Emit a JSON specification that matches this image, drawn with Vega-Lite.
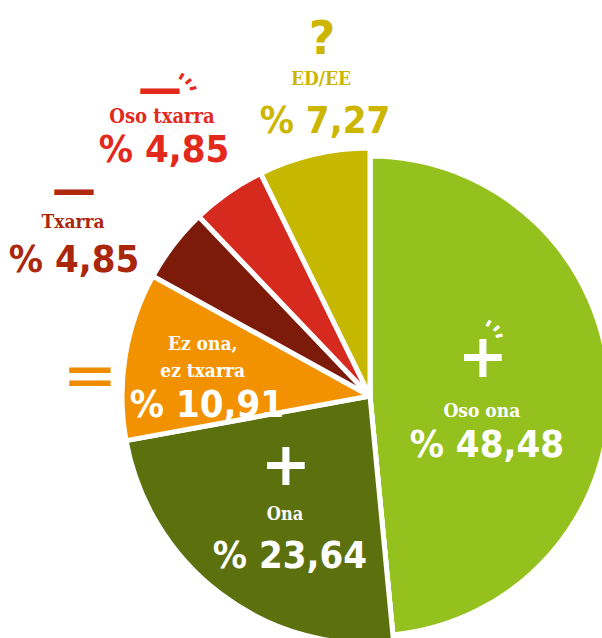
{
  "$schema": "https://vega.github.io/schema/vega-lite/v6.json",
  "width": 740,
  "height": 792,
  "autosize": "none",
  "padding": 0,
  "background": "white",
  "config": {
    "view": {"stroke": null},
    "locale": {"number": {"decimal": ",", "thousands": ".", "grouping": [3], "currency": ["% ", ""]}}
  },
  "data": {
    "values": [
      {"cat": "Oso ona", "name": "Oso ona", "value": 48.48, "idx": 1},
      {"cat": "Ona", "name": "Ona", "value": 23.64, "idx": 2},
      {"cat": "Ez ona, ez txarra", "name": "Ez ona,\nez txarra", "value": 10.91, "idx": 3},
      {"cat": "Txarra", "name": "Txarra", "value": 4.85, "idx": 4},
      {"cat": "Oso txarra", "name": "Oso txarra", "value": 4.85, "idx": 5},
      {"cat": "ED/EE", "name": "ED/EE", "value": 7.27, "idx": 6}
    ]
  },
  "encoding": {
    "theta": {"field": "value", "type": "quantitative", "stack": true},
    "order": {"field": "idx", "type": "quantitative"}
  },
  "layer": [
    {
      "mark": {"type": "arc", "radius": 240, "stroke": "white", "strokeWidth": 5, "strokeJoin": "round"},
      "encoding": {
        "color": {"field": "cat", "type": "nominal", "legend": null,
          "scale": {"domain": ["Oso ona", "Ona", "Ez ona, ez txarra", "Txarra", "Oso txarra", "ED/EE"],
                    "range": ["#95c11f", "#5c700e", "#f39200", "#7d1b0b", "#d62a1e", "#c6b800"]}}
      }
    },
    {
      "mark": {"type": "arc", "radius": 248, "stroke": "white", "strokeWidth": 5, "strokeJoin": "round"},
      "encoding": {
        "color": {"field": "cat", "type": "nominal", "legend": null},
        "opacity": {"condition": {"test": "datum.idx === 1", "value": 0}, "value": 1}
      }
    },

    {"mark": {"type": "text", "radius": 115, "dx": -2, "dy": -31.5, "font": "DejaVu Sans", "fontWeight": "bold", "fontSize": 60, "color": "white", "align": "center", "baseline": "middle"},
     "encoding": {"text": {"condition": {"test": "datum.idx === 1", "value": "+"}, "value": ""}}},
    {"mark": {"type": "text", "radius": 115, "angle": -60, "dx": 60.0, "dy": -31.1, "font": "DejaVu Sans", "fontWeight": "bold", "fontSize": 22, "color": "white", "align": "center", "baseline": "middle"},
     "encoding": {"text": {"condition": {"test": "datum.idx === 1", "value": "-"}, "value": ""}}},
    {"mark": {"type": "text", "radius": 115, "angle": -40, "dx": 48.7, "dy": -40.7, "font": "DejaVu Sans", "fontWeight": "bold", "fontSize": 22, "color": "white", "align": "center", "baseline": "middle"},
     "encoding": {"text": {"condition": {"test": "datum.idx === 1", "value": "-"}, "value": ""}}},
    {"mark": {"type": "text", "radius": 115, "angle": -14, "dx": 27.1, "dy": -50.4, "font": "DejaVu Sans", "fontWeight": "bold", "fontSize": 22, "color": "white", "align": "center", "baseline": "middle"},
     "encoding": {"text": {"condition": {"test": "datum.idx === 1", "value": "-"}, "value": ""}}},
    {"mark": {"type": "text", "radius": 115, "dx": -3, "dy": 26.5, "font": "DejaVu Serif Condensed, DejaVu Serif", "fontWeight": "bold", "fontSize": 19, "color": "white", "align": "center", "baseline": "alphabetic"},
     "encoding": {"text": {"condition": {"test": "datum.idx === 1", "field": "name", "type": "nominal"}, "value": ""}}},
    {"mark": {"type": "text", "radius": 115, "dx": 2, "dy": 66.5, "font": "DejaVu Sans Condensed, DejaVu Sans", "fontWeight": "bold", "fontSize": 38, "color": "white", "align": "center", "baseline": "alphabetic"},
     "encoding": {"text": {"condition": {"test": "datum.idx === 1", "field": "value", "type": "quantitative", "format": "$.2f"}, "value": ""}}},

    {"mark": {"type": "text", "radius": 140, "dx": 0.4, "dy": -40.7, "font": "DejaVu Sans", "fontWeight": "bold", "fontSize": 60, "color": "white", "align": "center", "baseline": "middle"},
     "encoding": {"text": {"condition": {"test": "datum.idx === 2", "value": "+"}, "value": ""}}},
    {"mark": {"type": "text", "radius": 140, "dx": -0.6, "dy": 12.3, "font": "DejaVu Serif Condensed, DejaVu Serif", "fontWeight": "bold", "fontSize": 18, "color": "white", "align": "center", "baseline": "alphabetic"},
     "encoding": {"text": {"condition": {"test": "datum.idx === 2", "field": "name", "type": "nominal"}, "value": ""}}},
    {"mark": {"type": "text", "radius": 140, "dx": 4.4, "dy": 60.3, "font": "DejaVu Sans Condensed, DejaVu Sans", "fontWeight": "bold", "fontSize": 38, "color": "white", "align": "center", "baseline": "alphabetic"},
     "encoding": {"text": {"condition": {"test": "datum.idx === 2", "field": "value", "type": "quantitative", "format": "$.2f"}, "value": ""}}},

    {"mark": {"type": "text", "radius": 165, "dx": -4.5, "dy": -19.4, "font": "DejaVu Serif Condensed, DejaVu Serif", "fontWeight": "bold", "fontSize": 19, "lineBreak": "\n", "lineHeight": 27, "color": "white", "align": "center", "baseline": "alphabetic"},
     "encoding": {"text": {"condition": {"test": "datum.idx === 3", "field": "name", "type": "nominal"}, "value": ""}}},
    {"mark": {"type": "text", "radius": 165, "dx": -0.2, "dy": 47.6, "font": "DejaVu Sans Condensed, DejaVu Sans", "fontWeight": "bold", "fontSize": 38, "color": "white", "align": "center", "baseline": "alphabetic"},
     "encoding": {"text": {"condition": {"test": "datum.idx === 3", "field": "value", "type": "quantitative", "format": "$.2f"}, "value": ""}}},
    {"mark": {"type": "text", "radius": 285, "dx": 1.3, "dy": 27, "font": "DejaVu Sans", "fontWeight": "normal", "fontSize": 66, "color": "#f08c00", "align": "center", "baseline": "middle"},
     "encoding": {"text": {"condition": {"test": "datum.idx === 3", "value": "="}, "value": ""}}},

    {"mark": {"type": "text", "radius": 300, "dx": -58.4, "dy": -21.8, "font": "DejaVu Sans", "fontWeight": "bold", "fontSize": 44, "color": "#b0290d", "align": "center", "baseline": "middle"},
     "encoding": {"text": {"condition": {"test": "datum.idx === 4", "value": "—"}, "value": ""}}},
    {"mark": {"type": "text", "radius": 300, "dx": -59.4, "dy": 15.2, "font": "DejaVu Serif Condensed, DejaVu Serif", "fontWeight": "bold", "fontSize": 19, "color": "#aa270c", "align": "center", "baseline": "alphabetic"},
     "encoding": {"text": {"condition": {"test": "datum.idx === 4", "field": "name", "type": "nominal"}, "value": ""}}},
    {"mark": {"type": "text", "radius": 300, "dx": -58.4, "dy": 59.2, "font": "DejaVu Sans Condensed, DejaVu Sans", "fontWeight": "bold", "fontSize": 38, "color": "#aa270c", "align": "center", "baseline": "alphabetic"},
     "encoding": {"text": {"condition": {"test": "datum.idx === 4", "field": "value", "type": "quantitative", "format": "$.2f"}, "value": ""}}},

    {"mark": {"type": "text", "radius": 330, "dx": -21.2, "dy": -35.3, "font": "DejaVu Sans", "fontWeight": "bold", "fontSize": 44, "color": "#e2291c", "align": "center", "baseline": "middle"},
     "encoding": {"text": {"condition": {"test": "datum.idx === 5", "value": "—"}, "value": ""}}},
    {"mark": {"type": "text", "radius": 330, "angle": -60, "dx": 42.6, "dy": -24.8, "font": "DejaVu Sans", "fontWeight": "bold", "fontSize": 22, "color": "#e2291c", "align": "center", "baseline": "middle"},
     "encoding": {"text": {"condition": {"test": "datum.idx === 5", "value": "-"}, "value": ""}}},
    {"mark": {"type": "text", "radius": 330, "angle": -40, "dx": 33.7, "dy": -29.6, "font": "DejaVu Sans", "fontWeight": "bold", "fontSize": 22, "color": "#e2291c", "align": "center", "baseline": "middle"},
     "encoding": {"text": {"condition": {"test": "datum.idx === 5", "value": "-"}, "value": ""}}},
    {"mark": {"type": "text", "radius": 330, "angle": -14, "dx": 20.6, "dy": -33.8, "font": "DejaVu Sans", "fontWeight": "bold", "fontSize": 22, "color": "#e2291c", "align": "center", "baseline": "middle"},
     "encoding": {"text": {"condition": {"test": "datum.idx === 5", "value": "-"}, "value": ""}}},
    {"mark": {"type": "text", "radius": 330, "dx": -19.2, "dy": -2.3, "font": "DejaVu Serif Condensed, DejaVu Serif", "fontWeight": "bold", "fontSize": 20, "color": "#e2291c", "align": "center", "baseline": "alphabetic"},
     "encoding": {"text": {"condition": {"test": "datum.idx === 5", "field": "name", "type": "nominal"}, "value": ""}}},
    {"mark": {"type": "text", "radius": 330, "dx": -17.2, "dy": 36.7, "font": "DejaVu Sans Condensed, DejaVu Sans", "fontWeight": "bold", "fontSize": 38, "color": "#e2291c", "align": "center", "baseline": "alphabetic"},
     "encoding": {"text": {"condition": {"test": "datum.idx === 5", "field": "value", "type": "quantitative", "format": "$.2f"}, "value": ""}}},

    {"mark": {"type": "text", "radius": 300, "dx": 19.9, "dy": -49.8, "font": "DejaVu Sans", "fontWeight": "bold", "fontSize": 46, "color": "#cdb600", "align": "center", "baseline": "alphabetic"},
     "encoding": {"text": {"condition": {"test": "datum.idx === 6", "value": "?"}, "value": ""}}},
    {"mark": {"type": "text", "radius": 300, "dx": 18.9, "dy": -18.8, "font": "DejaVu Serif Condensed, DejaVu Serif", "fontWeight": "bold", "fontSize": 19, "color": "#cdb600", "align": "center", "baseline": "alphabetic"},
     "encoding": {"text": {"condition": {"test": "datum.idx === 6", "field": "name", "type": "nominal"}, "value": ""}}},
    {"mark": {"type": "text", "radius": 300, "dx": 22.9, "dy": 29.2, "font": "DejaVu Sans Condensed, DejaVu Sans", "fontWeight": "bold", "fontSize": 38, "color": "#cdb600", "align": "center", "baseline": "alphabetic"},
     "encoding": {"text": {"condition": {"test": "datum.idx === 6", "field": "value", "type": "quantitative", "format": "$.2f"}, "value": ""}}}
  ]
}
